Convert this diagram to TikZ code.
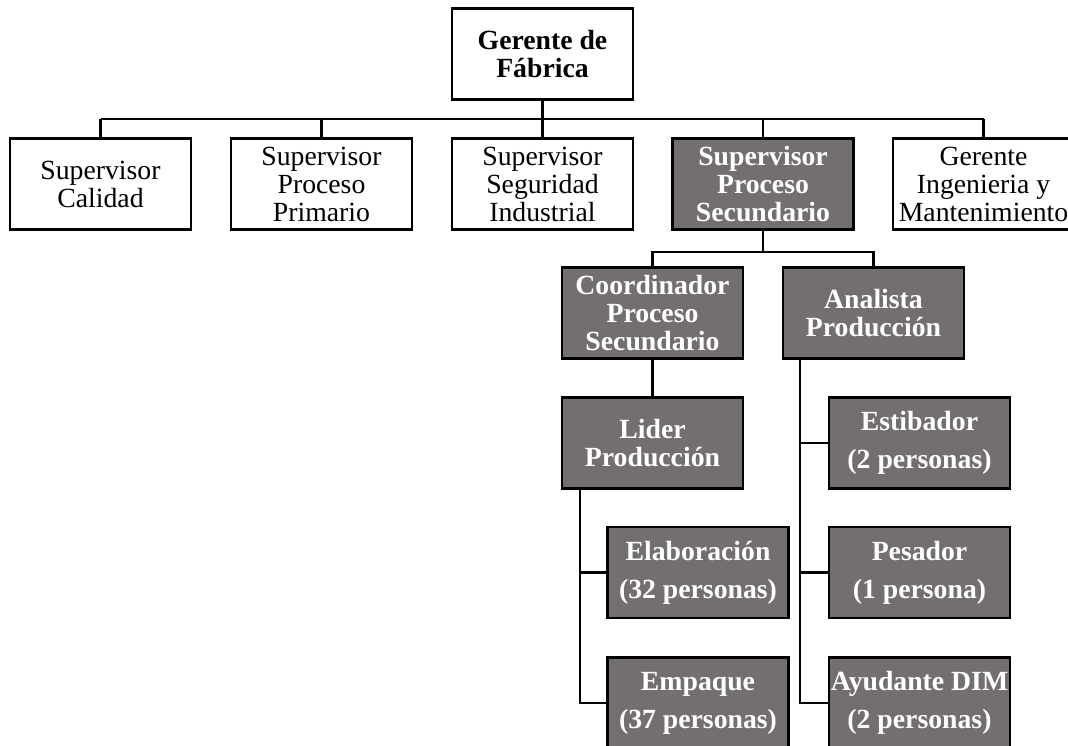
\documentclass[tikz,border=0pt]{standalone}
\usepackage{fontspec}
\setmainfont{Liberation Serif}
\definecolor{boxgray}{RGB}{116,111,111}
\tikzset{
  puesto/.style={draw, line width=1.8pt, minimum width=136pt, minimum height=68pt,
    inner sep=0pt, align=center, font=\fontsize{20.8}{21}\selectfont},
  jefe/.style={puesto, font=\fontsize{20.8}{21}\selectfont\bfseries},
  area/.style={puesto, fill=boxgray, text=white, font=\fontsize{20.8}{21}\selectfont\bfseries},
  cuadrilla/.style={area, font=\fontsize{20.8}{28.5}\selectfont\bfseries},
  linea/.style={line width=1.6pt}
}

\begin{document}
\begin{tikzpicture}[x=0.75pt,y=-0.75pt]
  \useasboundingbox (0,0) rectangle (1068,746);
  \node[jefe] (gf) at (542.5,54) {Gerente de\\Fábrica};
  \node[puesto] (sc) at (100.5,184) {Supervisor\\Calidad};
  \node[puesto] (spp) at (321.5,184) {Supervisor\\Proceso\\Primario};
  \node[puesto] (ssi) at (542.5,184) {Supervisor\\Seguridad\\Industrial};
  \node[area] (sps) at (763,184) {Supervisor\\Proceso\\Secundario};
  \node[puesto] (gim) at (983.5,184) {Gerente\\Ingenieria y\\Mantenimiento};
  \node[area] (cps) at (652.5,313) {Coordinador\\Proceso\\Secundario};
  \node[area] (ap) at (873.5,313) {Analista\\Producción};
  \node[area] (lp) at (652.5,443) {Lider\\Producción};
  \node[cuadrilla] (est) at (919.5,443) {Estibador\\(2 personas)};
  \node[cuadrilla] (ela) at (698,572.5) {Elaboración\\(32 personas)};
  \node[cuadrilla] (pes) at (919.5,572.5) {Pesador\\(1 persona)};
  \node[cuadrilla] (emp) at (698,703) {Empaque\\(37 personas)};
  \node[cuadrilla] (ayu) at (919.5,703) {Ayudante DIM\\(2 personas)};
  \coordinate (bar) at (542.5,119);
  \coordinate (bar2) at (763,252);
  \coordinate (lpv) at (580,0);
  \coordinate (apv) at (800,0);
  \draw[linea] (gf.south) -- (bar);
  \draw[linea] (sc.north |- bar) -- (gim.north |- bar);
  \foreach \n in {sc,spp,ssi,sps,gim}
    \draw[linea] (\n.north) -- (\n.north |- bar);
  \draw[linea] (sps.south) -- (bar2);
  \draw[linea] (cps.north) |- (bar2) -| (ap.north);
  \draw[linea] (cps.south) -- (lp.north);
  \draw[linea] (lpv |- lp.south) |- (emp.west);
  \draw[linea] (lpv |- ela.west) -- (ela.west);
  \draw[linea] (apv |- ap.south) |- (ayu.west);
  \foreach \n in {est,pes}
    \draw[linea] (apv |- \n.west) -- (\n.west);
\end{tikzpicture}
\end{document}
